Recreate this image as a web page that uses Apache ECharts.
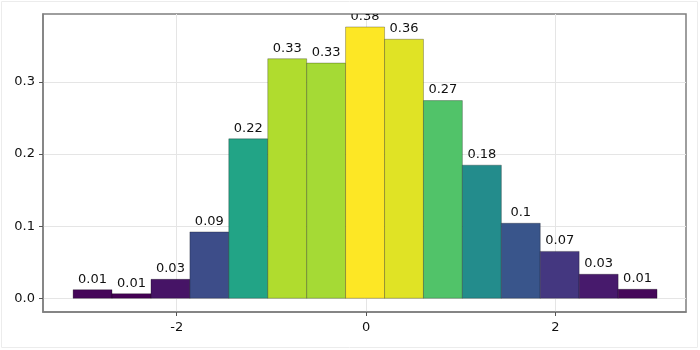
<!DOCTYPE html>
<html>
<head>
<meta charset="utf-8">
<script src="https://cdn.jsdelivr.net/npm/echarts@6/dist/echarts.min.js"></script>
<style>
  html, body { margin: 0; padding: 0; background: #fff; }
</style>
</head>
<body>
<!-- histogram container -->
<div id="main" style="width: 700px;height: 350px;"></div>
<script>
// bin edges (16 edges -> 15 bins)
var binEdges = [-3.095, -2.684, -2.272, -1.861, -1.450, -1.038, -0.627, -0.216, 0.196, 0.607, 1.018, 1.430, 1.841, 2.252, 2.664, 3.075]
// density for each bin
var density = [0.0119, 0.0064, 0.0263, 0.092, 0.221, 0.332, 0.326, 0.376, 0.359, 0.274, 0.1845, 0.104, 0.065, 0.0333, 0.0125]
// tick labels
var xTicks = [-2, 0, 2]
var yTicks = [0, 0.1, 0.2, 0.3]

var viridis = ['#440154', '#482475', '#414487', '#355f8d', '#2a788e', '#21918c', '#22a884', '#44bf70', '#7ad151', '#bddf26', '#fde725']
var FONT = 'DejaVu Sans'

var rows = density.map(function (d, i) {
  return [binEdges[i], binEdges[i + 1], d]
})

var myChart = echarts.init(document.getElementById('main'))
var option = {
  animation: false,
  textStyle: { fontFamily: FONT },
  grid: {
    left: 43, right: 14, top: 14, bottom: 38,
    show: true,
    borderColor: '#7f7f7f',
    borderWidth: 1.5
  },
  // outer light frame
  graphic: [{
    type: 'rect',
    shape: { x: 1.5, y: 1.5, width: 696, height: 346 },
    style: { fill: null, stroke: '#ececec', lineWidth: 1 },
    silent: true
  }],
  visualMap: {
    show: false,
    type: 'continuous',
    dimension: 2,
    min: Math.min.apply(null, density),
    max: Math.max.apply(null, density),
    inRange: { color: viridis }
  },
  xAxis: {
    type: 'value',
    min: -3.413,
    max: 3.381,
    axisLine: { show: true, onZero: false, lineStyle: { color: '#7f7f7f', width: 1.5 } },
    axisTick: { show: true, length: 4, customValues: xTicks, lineStyle: { color: '#555' } },
    axisLabel: { customValues: xTicks, color: '#111', fontSize: 13, fontFamily: FONT, margin: 9 },
    splitLine: { show: true, lineStyle: { color: '#e5e5e5', width: 1 } }
  },
  yAxis: {
    type: 'value',
    min: -0.019,
    max: 0.394,
    axisLine: { show: true, onZero: false, lineStyle: { color: '#7f7f7f', width: 1.5 } },
    axisTick: { show: true, length: 4, customValues: yTicks, lineStyle: { color: '#555' } },
    axisLabel: {
      customValues: yTicks, color: '#111', fontSize: 13, fontFamily: FONT, margin: 8,
      formatter: function (v) { return v === 0 ? '0.0' : String(v) }
    },
    splitLine: { show: true, lineStyle: { color: '#e5e5e5', width: 1 } }
  },
  series: [{
    type: 'custom',
    clip: true,
    encode: { x: [0, 1], y: 2 },
    data: rows,
    renderItem: function (params, api) {
      var p0 = api.coord([api.value(0), api.value(2)])
      var p1 = api.coord([api.value(1), 0])
      var txt = String(Math.round(api.value(2) * 100) / 100)
      return {
        type: 'group',
        children: [{
          type: 'rect',
          shape: { x: p0[0], y: p0[1], width: p1[0] - p0[0], height: p1[1] - p0[1] },
          style: { fill: api.visual('color'), stroke: 'rgba(0,0,0,0.35)', lineWidth: 0.8 }
        }, {
          type: 'text',
          x: (p0[0] + p1[0]) / 2,
          y: p0[1] - 4,
          style: {
            text: txt,
            fontSize: 13,
            fontFamily: FONT,
            fill: '#111',
            align: 'center',
            verticalAlign: 'bottom'
          }
        }]
      }
    }
  }]
}
myChart.setOption(option)
</script>
</body>
</html>
